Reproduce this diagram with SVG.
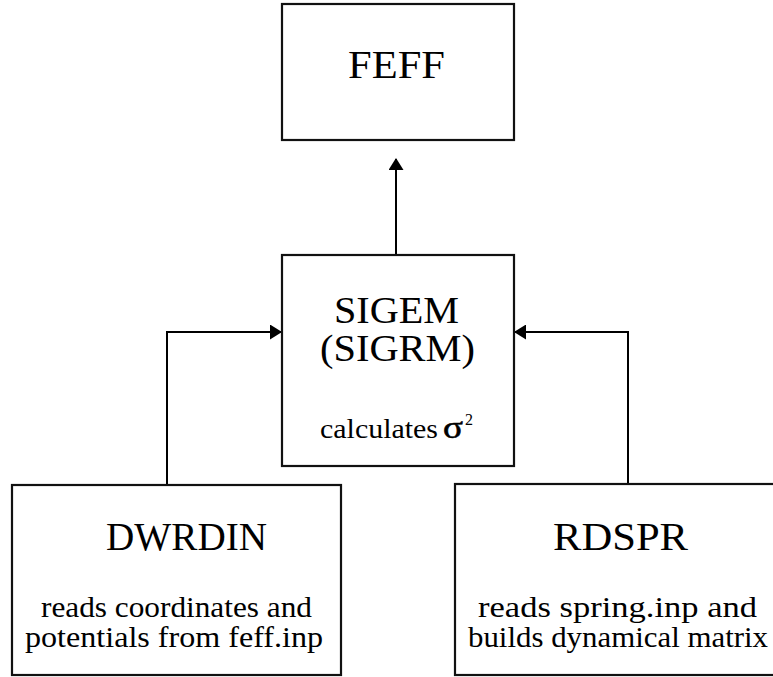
<svg xmlns="http://www.w3.org/2000/svg" width="773" height="677" viewBox="0 0 773 677">
<style>
.box{fill:#fff;stroke:#111;stroke-width:2.2}
.con{fill:none;stroke:#000;stroke-width:2}
text{font-family:"Liberation Serif","Times New Roman",serif;fill:#000}
.t{font-size:39px}
.s{font-size:30px}
</style>
<defs>
<marker id="arr" markerUnits="userSpaceOnUse" markerWidth="12" markerHeight="15" refX="11" refY="7.5" orient="auto">
<path d="M0,0 L12,7.5 L0,15 z" fill="#000"/>
</marker>
</defs>
<rect width="773" height="677" fill="#fff"/>
<g id="connectors">
<path class="con" d="M396,255 V159" marker-end="url(#arr)"/>
<path class="con" d="M167,485 V332 H281" marker-end="url(#arr)"/>
<path class="con" d="M628,484 V332 H515" marker-end="url(#arr)"/>
</g>
<g id="feff">
<rect class="box" x="282" y="4" width="232" height="136"/>
<text class="t" x="348" y="78" textLength="97" lengthAdjust="spacingAndGlyphs">FEFF</text>
</g>
<g id="sigem">
<rect class="box" x="282" y="255" width="232" height="211"/>
<text x="334" y="323" font-size="37" textLength="125" lengthAdjust="spacingAndGlyphs">SIGEM</text>
<text x="320" y="361" font-size="37" textLength="155" lengthAdjust="spacingAndGlyphs">(SIGRM)</text>
<text x="320" y="438" font-size="28" textLength="118" lengthAdjust="spacingAndGlyphs">calculates</text>
<text x="443" y="438" font-size="32" stroke="#000" stroke-width="0.6" textLength="20" lengthAdjust="spacingAndGlyphs">σ</text>
<text x="465" y="425" font-size="16">2</text>
</g>
<g id="dwrdin">
<rect class="box" x="12" y="485" width="329" height="190"/>
<text class="t" x="106" y="550" textLength="161" lengthAdjust="spacingAndGlyphs">DWRDIN</text>
<text class="s" x="41" y="617" textLength="271" lengthAdjust="spacingAndGlyphs">reads coordinates and</text>
<text class="s" x="25" y="647" textLength="298" lengthAdjust="spacingAndGlyphs">potentials from feff.inp</text>
</g>
<g id="rdspr">
<rect class="box" x="455" y="484" width="330" height="191"/>
<text class="t" x="553" y="550" textLength="135" lengthAdjust="spacingAndGlyphs">RDSPR</text>
<text class="s" x="478" y="617" textLength="279" lengthAdjust="spacingAndGlyphs">reads spring.inp and</text>
<text class="s" x="468" y="647" textLength="300" lengthAdjust="spacingAndGlyphs">builds dynamical matrix</text>
</g>
</svg>
